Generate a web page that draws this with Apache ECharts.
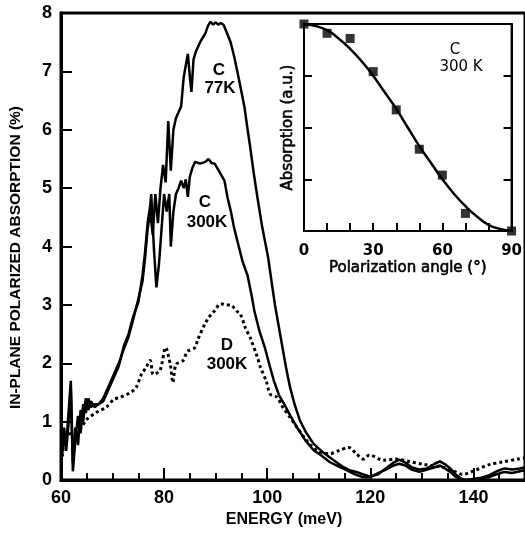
<!DOCTYPE html>
<html>
<head>
<meta charset="utf-8">
<script src="https://cdn.jsdelivr.net/npm/echarts@6/dist/echarts.min.js"></script>
<style>
  html, body { margin: 0; padding: 0; background: #fff; }
  #chart { width: 525px; height: 533px; }
</style>
</head>
<body>
<div id="chart"></div>
<script>
// main spectra: energy (meV) vs in-plane absorption (%)
var energyC77 = [60.2, 60.6, 61.0, 61.5, 61.9, 62.3, 62.8, 63.3, 63.8, 64.3, 64.8, 65.3, 65.8, 66.5, 67.3, 68.2, 69.2, 70.2, 71.2, 72.2, 73.1, 74.0, 75.0, 75.8, 76.3, 76.8, 77.3, 77.8, 78.3, 78.8, 79.3, 79.8, 80.3, 80.8, 81.3, 81.8, 82.3, 82.8, 83.3, 83.8, 84.2, 84.6, 85.0, 85.3, 85.7, 86.2, 87.1, 88.0, 88.5, 89.0, 89.5, 90.0, 90.5, 91.0, 91.5, 92.0, 92.9, 93.6, 94.2, 95.0, 95.6, 96.2, 96.7, 97.4, 98.1, 99.0, 100.2, 101.0, 101.5, 102.3, 102.9, 103.6, 104.4, 105.3, 106.3, 107.5, 109.0, 110.5, 112.1, 113.5, 114.8, 116.0, 117.3, 118.5, 120.0, 121.5, 123.0, 124.5, 125.6, 126.8, 128.0, 129.5, 131.0, 132.5, 133.5, 134.5, 135.5, 136.5, 137.5, 138.5, 140.0, 141.5, 143.0, 144.5, 146.0, 147.5, 149.0, 150.0];
var absC77 = [0.5, 0.9, 0.6, 1.2, 1.7, 0.3, 0.9, 0.6, 1.2, 1.0, 1.4, 1.2, 1.35, 1.25, 1.3, 1.4, 1.6, 1.8, 2.0, 2.25, 2.45, 2.75, 3.1, 3.4, 3.8, 4.3, 4.6, 4.2, 4.9, 4.4, 5.0, 5.4, 5.1, 6.15, 5.3, 6.0, 6.2, 6.3, 6.4, 6.9, 7.1, 7.3, 6.9, 6.65, 7.2, 7.35, 7.52, 7.65, 7.78, 7.85, 7.8, 7.84, 7.8, 7.83, 7.8, 7.7, 7.5, 7.25, 7.0, 6.65, 6.38, 6.0, 5.7, 5.25, 4.84, 4.35, 3.8, 3.3, 3.0, 2.6, 2.3, 1.95, 1.6, 1.3, 1.03, 0.82, 0.62, 0.5, 0.39, 0.3, 0.22, 0.17, 0.14, 0.1, 0.06, 0.1, 0.2, 0.3, 0.35, 0.3, 0.22, 0.18, 0.2, 0.28, 0.32, 0.27, 0.2, 0.1, 0.03, 0.0, 0.02, 0.04, 0.08, 0.15, 0.2, 0.18, 0.2, 0.22];

var energyC300 = [60.2, 60.6, 61.0, 61.5, 61.9, 62.3, 62.8, 63.3, 63.8, 64.3, 64.8, 65.3, 65.8, 66.5, 67.3, 68.2, 69.2, 70.2, 71.2, 72.2, 73.1, 74.0, 75.0, 75.8, 76.3, 76.8, 77.3, 77.5, 78.0, 78.5, 79.0, 79.5, 80.0, 80.5, 81.0, 81.3, 81.8, 82.3, 82.8, 83.3, 83.8, 84.2, 84.6, 85.0, 85.5, 86.0, 87.0, 88.0, 88.6, 89.2, 89.8, 90.6, 91.7, 92.3, 92.9, 93.5, 94.2, 95.2, 96.2, 97.0, 97.5, 98.5, 99.6, 100.5, 101.3, 102.3, 103.3, 104.5, 105.8, 107.4, 109.0, 110.5, 112.1, 113.5, 115.4, 117.0, 118.5, 120.0, 121.5, 123.0, 124.5, 125.6, 126.8, 128.0, 129.5, 131.0, 132.5, 133.5, 134.5, 135.5, 136.5, 137.5, 138.5, 140.0, 141.5, 143.0, 144.5, 146.0, 147.5, 149.0, 150.0];
var absC300 = [0.4, 0.8, 0.5, 1.0, 1.6, 0.15, 0.7, 1.1, 0.8, 1.3, 1.15, 1.4, 1.25, 1.3, 1.3, 1.35, 1.55, 1.75, 1.95, 2.3, 2.5, 2.8, 3.05, 3.5, 3.9, 4.4, 4.7, 4.9, 4.0, 3.3, 3.7, 4.3, 4.9, 4.6, 4.9, 4.0, 4.6, 4.9, 5.0, 5.13, 5.0, 5.15, 4.85, 5.2, 5.35, 5.45, 5.42, 5.45, 5.5, 5.43, 5.42, 5.3, 5.13, 4.84, 4.62, 4.35, 4.1, 3.75, 3.5, 3.15, 2.9, 2.55, 2.25, 1.95, 1.7, 1.45, 1.3, 1.1, 0.9, 0.68, 0.51, 0.42, 0.31, 0.25, 0.17, 0.1, 0.05, 0.05, 0.12, 0.18, 0.25, 0.28, 0.25, 0.18, 0.14, 0.18, 0.22, 0.25, 0.2, 0.14, 0.06, 0.02, 0.0, 0.01, 0.03, 0.05, 0.1, 0.14, 0.12, 0.15, 0.17];

var energyD300 = [60.0, 60.3, 60.6, 61.5, 62.5, 63.5, 65.0, 66.9, 68.8, 70.2, 71.5, 73.5, 74.6, 75.6, 76.5, 77.3, 77.9, 79.2, 80.3, 81.2, 81.7, 82.3, 83.7, 84.5, 86.0, 86.5, 87.9, 88.8, 89.8, 91.0, 92.0, 92.9, 94.0, 94.8, 95.8, 96.7, 98.1, 98.7, 99.8, 100.6, 101.9, 103.0, 104.4, 105.8, 107.1, 108.4, 109.6, 110.8, 112.1, 114.0, 115.8, 117.3, 118.7, 119.8, 121.7, 122.5, 124.9, 127.5, 130.2, 134.0, 136.0, 137.9, 140.4, 142.9, 145.6, 148.7, 150.0];
var absD300 = [0.3, 0.45, 0.68, 0.78, 0.82, 0.85, 1.04, 1.16, 1.25, 1.38, 1.42, 1.5, 1.59, 1.81, 1.93, 2.05, 1.81, 1.88, 2.27, 1.98, 1.67, 1.98, 2.05, 2.2, 2.27, 2.4, 2.67, 2.8, 2.9, 3.02, 3.0, 3.0, 2.9, 2.84, 2.6, 2.44, 2.1, 1.93, 1.7, 1.47, 1.42, 1.25, 1.08, 0.9, 0.74, 0.6, 0.51, 0.47, 0.45, 0.51, 0.56, 0.45, 0.36, 0.43, 0.36, 0.34, 0.36, 0.32, 0.27, 0.22, 0.16, 0.1, 0.17, 0.26, 0.31, 0.36, 0.38];

// inset: absorption vs polarization angle
var angleMeas = [0, 10, 20, 30, 40, 50, 60, 70, 90];
var absMeas = [1.0, 0.955, 0.93, 0.77, 0.585, 0.395, 0.27, 0.085, 0.0];
var angleFit = [0, 5, 10, 15, 20, 25, 30, 35, 40, 45, 50, 55, 60, 65, 70, 75, 80, 85, 90];
var absFit = [1.0, 0.99, 0.97, 0.93, 0.88, 0.82, 0.75, 0.67, 0.59, 0.5, 0.41, 0.33, 0.25, 0.18, 0.12, 0.07, 0.03, 0.01, 0.0];

function pairs(xs, ys) {
  return xs.map(function (x, i) { return [x, ys[i]] })
}

var FONT = 'Liberation Sans, Arial, sans-serif'
var INSET_FONT = 'DejaVu Sans, sans-serif'
var chart = echarts.init(document.getElementById('chart'), null, { renderer: 'canvas' })

// label that sits on the main plot, centred at (x, y)
function tag(text, x, y, font, z) {
  return {
    type: 'text',
    x: x,
    y: y,
    z: z || 5,
    style: { text: text, font: font, fill: '#000', textAlign: 'center', textVerticalAlign: 'middle' }
  }
}

chart.setOption({
  backgroundColor: '#fff',
  animation: false,
  grid: [
    { left: 61, right: -4, top: 13, bottom: 51, show: true, borderColor: '#000', borderWidth: 3 },
    { left: 304, right: 10, top: 24, bottom: 302, show: true, borderColor: '#000', borderWidth: 2, backgroundColor: '#fff', z: 10 }
  ],
  xAxis: [
    {
      gridIndex: 0,
      type: 'value',
      min: 60,
      max: 150,
      interval: 20,
      name: 'ENERGY (meV)',
      nameLocation: 'middle',
      nameGap: 30,
      nameTextStyle: { fontFamily: FONT, fontWeight: 'bold', fontSize: 16, color: '#000', padding: [0, 18, 0, 0] },
      axisLine: { lineStyle: { color: '#000', width: 3 } },
      axisTick: { inside: true, length: 12, lineStyle: { color: '#000', width: 2 } },
      minorTick: { show: true, splitNumber: 4, length: 7, lineStyle: { color: '#000', width: 2 } },
      axisLabel: { fontFamily: FONT, fontWeight: 'bold', fontSize: 18, color: '#000', margin: 9, showMaxLabel: false },
      splitLine: { show: false }
    },
    {
      gridIndex: 1,
      type: 'value',
      min: 0,
      max: 90,
      interval: 30,
      name: 'Polarization angle (°)',
      nameLocation: 'middle',
      nameGap: 30,
      nameTextStyle: { fontFamily: INSET_FONT, fontSize: 15, color: '#000', textBorderColor: '#000', textBorderWidth: 0.6 },
      axisLine: { lineStyle: { color: '#000', width: 2 } },
      axisTick: { inside: true, length: 8, lineStyle: { color: '#000', width: 2 } },
      minorTick: { show: true, splitNumber: 3, length: 8, lineStyle: { color: '#000', width: 2 } },
      axisLabel: { fontFamily: INSET_FONT, fontWeight: 'bold', fontSize: 15, color: '#000', margin: 13 },
      splitLine: { show: false },
      z: 11
    }
  ],
  yAxis: [
    {
      gridIndex: 0,
      type: 'value',
      min: 0,
      max: 8,
      interval: 1,
      name: 'IN-PLANE POLARIZED ABSORPTION (%)',
      nameLocation: 'middle',
      nameGap: 37,
      nameTextStyle: { fontFamily: FONT, fontWeight: 'bold', fontSize: 15.5, color: '#000', padding: [0, 22, 0, 0] },
      axisLine: { lineStyle: { color: '#000', width: 3 } },
      axisTick: { inside: true, length: 11, lineStyle: { color: '#000', width: 2 } },
      axisLabel: { fontFamily: FONT, fontWeight: 'bold', fontSize: 18, color: '#000', margin: 9 },
      splitLine: { show: false }
    },
    {
      gridIndex: 1,
      type: 'value',
      min: 0,
      max: 1,
      interval: 0.25,
      name: 'Absorption (a.u.)',
      nameLocation: 'middle',
      nameGap: 8,
      nameTextStyle: { fontFamily: INSET_FONT, fontSize: 15, color: '#000', textBorderColor: '#000', textBorderWidth: 0.6 },
      axisLine: { lineStyle: { color: '#000', width: 2 } },
      axisTick: { inside: true, length: 8, lineStyle: { color: '#000', width: 2 } },
      axisLabel: { show: false },
      splitLine: { show: false },
      z: 11
    },
    {
      gridIndex: 1,
      type: 'value',
      position: 'right',
      min: 0,
      max: 1,
      interval: 0.25,
      axisLine: { show: true, lineStyle: { color: '#000', width: 2 } },
      axisTick: { inside: true, length: 8, lineStyle: { color: '#000', width: 2 } },
      axisLabel: { show: false },
      splitLine: { show: false },
      z: 11
    }
  ],
  series: [
    {
      name: 'C 77K',
      type: 'line',
      xAxisIndex: 0,
      yAxisIndex: 0,
      showSymbol: false,
      lineStyle: { color: '#000', width: 2.5 },
      data: pairs(energyC77, absC77)
    },
    {
      name: 'C 300K',
      type: 'line',
      xAxisIndex: 0,
      yAxisIndex: 0,
      showSymbol: false,
      lineStyle: { color: '#000', width: 2.5 },
      data: pairs(energyC300, absC300)
    },
    {
      name: 'D 300K',
      type: 'line',
      xAxisIndex: 0,
      yAxisIndex: 0,
      showSymbol: false,
      smooth: 0.3,
      lineStyle: { color: '#000', width: 3, type: [3, 3] },
      data: pairs(energyD300, absD300)
    },
    {
      name: 'fit',
      type: 'line',
      xAxisIndex: 1,
      yAxisIndex: 1,
      showSymbol: false,
      smooth: true,
      z: 12,
      lineStyle: { color: '#000', width: 2.5 },
      data: pairs(angleFit, absFit)
    },
    {
      name: 'measured',
      type: 'scatter',
      xAxisIndex: 1,
      yAxisIndex: 1,
      symbol: 'rect',
      symbolSize: 9,
      z: 13,
      itemStyle: { color: '#000' },
      data: pairs(angleMeas, absMeas)
    }
  ],
  graphic: [
    tag('C', 219, 70, 'bold 17px ' + FONT),
    tag('77K', 220, 88, 'bold 17px ' + FONT),
    tag('C', 205, 202, 'bold 17px ' + FONT),
    tag('300K', 207, 222, 'bold 17px ' + FONT),
    tag('D', 227, 345, 'bold 17px ' + FONT),
    tag('300K', 227, 364, 'bold 17px ' + FONT),
    tag('C', 455, 50, '15px ' + INSET_FONT, 20),
    tag('300 K', 461, 67, '15px ' + INSET_FONT, 20)
  ]
})
</script>
</body>
</html>
